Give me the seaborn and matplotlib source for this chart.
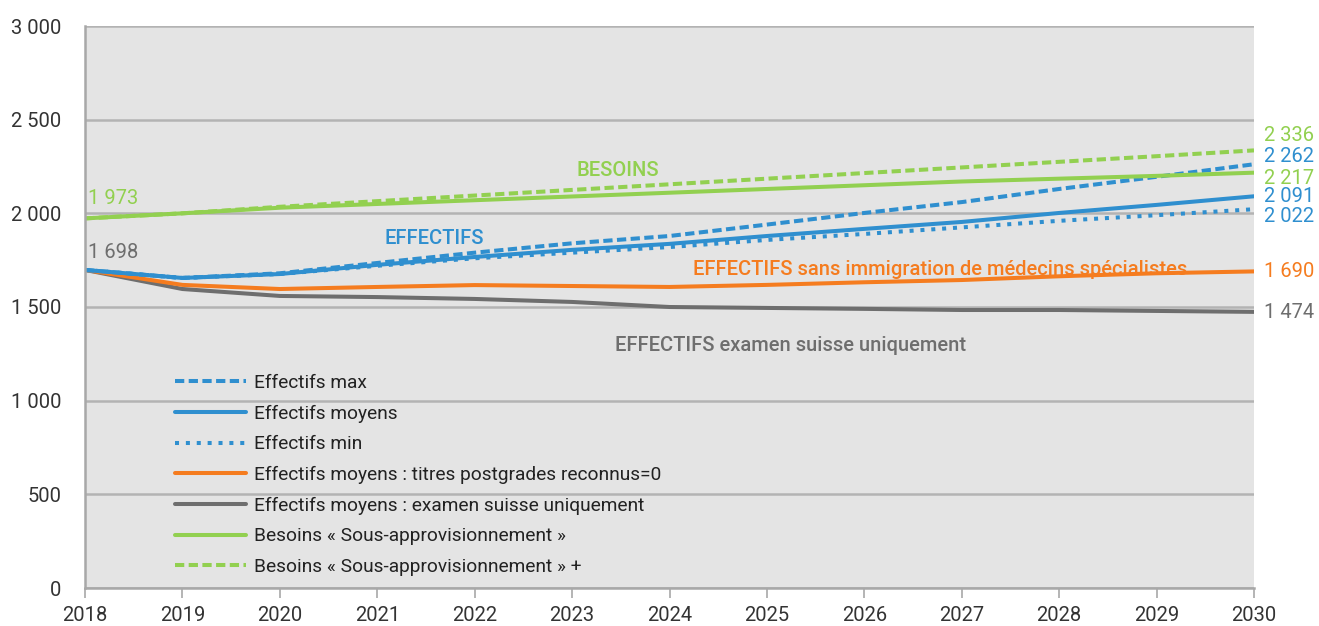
import matplotlib
matplotlib.use("Agg")
import matplotlib.pyplot as plt
from matplotlib.ticker import FuncFormatter
import seaborn as sns
import pandas as pd

years = list(range(2018, 2031))

effectifs_max = [1698, 1655, 1680, 1735, 1790, 1840, 1879, 1940, 2002, 2060, 2130, 2195, 2262]
effectifs_moyens = [1698, 1655, 1676, 1725, 1767, 1805, 1837, 1879, 1917, 1954, 2002, 2045, 2091]
effectifs_min = [1698, 1655, 1676, 1720, 1760, 1790, 1820, 1858, 1890, 1925, 1960, 1990, 2022]
effectifs_titres0 = [1698, 1618, 1596, 1607, 1617, 1612, 1607, 1618, 1632, 1644, 1664, 1680, 1690]
effectifs_examen_ch = [1698, 1596, 1559, 1553, 1543, 1527, 1500, 1495, 1490, 1484, 1484, 1479, 1474]
besoins_sous = [1973, 2000, 2030, 2050, 2070, 2090, 2110, 2130, 2150, 2170, 2185, 2200, 2217]
besoins_sous_plus = [1973, 2000, 2035, 2065, 2095, 2125, 2155, 2185, 2215, 2245, 2275, 2305, 2336]

series_names = [
    "Effectifs max",
    "Effectifs moyens",
    "Effectifs min",
    "Effectifs moyens : titres postgrades reconnus=0",
    "Effectifs moyens : examen suisse uniquement",
    "Besoins « Sous-approvisionnement »",
    "Besoins « Sous-approvisionnement » +",
]
series_values = [effectifs_max, effectifs_moyens, effectifs_min, effectifs_titres0,
                 effectifs_examen_ch, besoins_sous, besoins_sous_plus]

BLUE = "#2f8fcf"
ORANGE = "#f57c1f"
GRAY = "#6e6e6e"
GREEN = "#92d050"
DASH = (0, (2.3, 1.1))
DOT = (0, (1.0, 1.7))
styles = [
    dict(color=BLUE, ls=DASH),
    dict(color=BLUE, ls="-"),
    dict(color=BLUE, ls=DOT),
    dict(color=ORANGE, ls="-"),
    dict(color=GRAY, ls="-"),
    dict(color=GREEN, ls="-"),
    dict(color=GREEN, ls=DASH),
]
LW = 2.9
FS = 14.5
LEG_FS = 13.8


def fmt(v):
    return f"{int(v):,}".replace(",", " ")


sns.set_theme(style="white")
plt.rcParams["font.family"] = ["Roboto", "DejaVu Sans"]

fig = plt.figure(figsize=(13.19, 6.26), dpi=100)
ax = fig.add_axes([85 / 1319, 38 / 626, (1254 - 85) / 1319, (588 - 26) / 626])
ax.set_facecolor("#e4e4e4")

# draw the lower series first so the needs lines sit on top
draw_order = [4, 3, 2, 1, 0, 5, 6]
handles = {}
for i in draw_order:
    df = pd.DataFrame({"year": years, "value": series_values[i]})
    sns.lineplot(data=df, x="year", y="value", ax=ax, color=styles[i]["color"],
                 linewidth=LW, label=series_names[i])
    line = ax.lines[-1]
    line.set_linestyle(styles[i]["ls"])
    line.set_dash_capstyle("butt")
    handles[i] = line

ax.set_xlim(2018, 2030)
ax.set_ylim(0, 3000)
ax.set_xticks(years)
ax.set_yticks(range(0, 3001, 500))
ax.yaxis.set_major_formatter(FuncFormatter(lambda v, p: fmt(v)))
ax.set_xlabel("")
ax.set_ylabel("")
ax.grid(axis="y", color="#b3b3b3", linewidth=1.8)
ax.set_axisbelow(True)
for s in ["top", "right"]:
    ax.spines[s].set_visible(False)
for s in ["left", "bottom"]:
    ax.spines[s].set_color("#a8a8a8")
    ax.spines[s].set_linewidth(1.8)
ax.tick_params(axis="x", bottom=True, length=7, width=1.2, color="#a8a8a8",
               labelsize=FS, labelcolor="#333333", pad=6)
ax.tick_params(axis="y", left=False, labelsize=FS, labelcolor="#333333", pad=11)

leg = ax.legend([handles[i] for i in range(7)], series_names, loc="upper left",
                bbox_to_anchor=(0.077, 0.381), frameon=False, fontsize=LEG_FS,
                handlelength=3.7, handletextpad=0.4, labelspacing=0.66,
                borderpad=0, borderaxespad=0, labelcolor="#222222")
for h in leg.get_lines():
    h.set_linewidth(LW)

# value labels at both ends
ax.text(2018.03, 2077, fmt(besoins_sous[0]), color=GREEN, fontsize=FS,
        va="center", ha="left")
ax.text(2018.03, 1789, fmt(effectifs_examen_ch[0]), color=GRAY, fontsize=FS,
        va="center", ha="left")

end_labels = [
    (besoins_sous_plus[-1], GREEN, 2418),
    (effectifs_max[-1], BLUE, 2306),
    (besoins_sous[-1], GREEN, 2184),
    (effectifs_moyens[-1], BLUE, 2088),
    (effectifs_min[-1], BLUE, 1981),
    (effectifs_titres0[-1], ORANGE, 1692),
    (effectifs_examen_ch[-1], GRAY, 1468),
]
for val, col, ypos in end_labels:
    ax.text(2030.1, ypos, fmt(val), color=col, fontsize=FS,
            va="center", ha="left", clip_on=False)

ax.text(2023.47, 2231, "BESOINS", color=GREEN, fontsize=FS, fontweight="medium",
        ha="center", va="center")
ax.text(2021.59, 1863, "EFFECTIFS", color=BLUE, fontsize=FS, fontweight="medium",
        ha="center", va="center")
ax.text(2026.78, 1698, "EFFECTIFS sans immigration de médecins spécialistes", color=ORANGE,
        fontsize=FS, fontweight="medium", ha="center", va="center")
ax.text(2025.24, 1297, "EFFECTIFS examen suisse uniquement", color=GRAY,
        fontsize=FS, fontweight="medium", ha="center", va="center")

fig.savefig("out.png", dpi=100, facecolor="white")
